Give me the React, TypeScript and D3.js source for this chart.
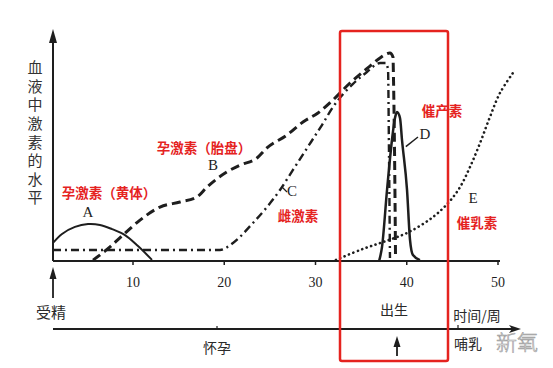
import * as d3 from "d3";
import { useMemo } from "react";

// weeks / hormone level (0-100)
const weeksA = [1.23, 2.22, 3.64, 5.07, 6.38, 7.7, 9.12, 10.55, 12.08];
const levelA = [8.2, 12.3, 15.5, 16.8, 16.4, 14.5, 11.8, 6.8, 0.5];

const weeksB = [5.62, 7.48, 8.9, 10.77, 12.96, 15.15, 17.01, 18.11, 20.3, 21.73, 23.59, 24.68, 26.88, 28.63, 30.27, 31.92, 33.78, 35.97, 37.07, 38.16, 38.49, 38.55, 38.66, 38.77];
const levelB = [0.4, 6.4, 11.8, 18.6, 24.5, 26.8, 29.1, 33.6, 40.5, 43.6, 46.8, 51.4, 57.3, 63.2, 67.3, 73.2, 80.9, 88.6, 92.3, 94.5, 92.7, 82.3, 50.5, 1.4];

const weeksC = [1.23, 6.38, 12.96, 19.53, 20.96, 23.15, 24.68, 26.11, 27.53, 29.51, 30.71, 31.92, 34.11, 35.64, 37.07, 37.73, 37.95, 38.05, 38.16];
const levelC = [5, 5, 5, 5, 8.2, 17.3, 24.5, 32.3, 41.4, 54.1, 61.8, 70, 80.5, 85.9, 90, 90, 86.8, 50.5, 1.4];

const weeksD = [36.97, 37.29, 37.84, 38.38, 38.71, 38.93, 39.26, 39.48, 40.03, 40.36, 40.68, 41.45];
const levelD = [0, 6.4, 32.3, 55, 65, 67.7, 65, 55, 32.3, 9.5, 2.7, 0.4];

const weeksE = [32.24, 35.2, 37.73, 40.25, 42.88, 44.63, 45.84, 46.93, 48.03, 49.12, 50.22, 51.64];
const levelE = [0.5, 5.5, 9.1, 13.2, 20, 26.8, 33.6, 42.7, 53.6, 65.5, 76.4, 85.5];

const tickWeeks = [10, 20, 30, 40, 50];
const yTitle = "血液中激素的水平";

const W = 553;
const H = 368;
const axisY = 261;
const axisX = 53;
const red = "#e5231f";
const ink = "#1e1e1e";
const cjk = "'Noto Sans CJK SC', sans-serif";
const latin = "'Liberation Serif', serif";

const App = () => {
  const x = useMemo(() => d3.scaleLinear().domain([0, 50]).range([41.75, 498]), []);
  const y = useMemo(() => d3.scaleLinear().domain([0, 100]).range([axisY, 41]), []);

  const mk = (ws: number[], ls: number[], curve: d3.CurveFactory) =>
    d3.line<number>().x((w) => x(w)).y((_, i) => y(ls[i])).curve(curve)(ws) || "";

  const pathA = mk(weeksA, levelA, d3.curveCatmullRom);
  const pathB = mk(weeksB, levelB, d3.curveMonotoneX);
  const pathC = mk(weeksC, levelC, d3.curveMonotoneX);
  const pathD = mk(weeksD, levelD, d3.curveMonotoneX);
  const pathE = mk(weeksE, levelE, d3.curveCatmullRom);

  const redLabel = (t: string, cx: number, cy: number) => (
    <text x={cx} y={cy} fill={red} fontFamily={cjk} fontWeight={700} fontSize={13.5} textAnchor="middle" dominantBaseline="central">{t}</text>
  );
  const letter = (t: string, cx: number, cy: number) => (
    <text x={cx} y={cy} fill={ink} fontFamily={latin} fontSize={15} textAnchor="middle" dominantBaseline="central">{t}</text>
  );
  const blackLabel = (t: string, cx: number, cy: number, size = 14) => (
    <text x={cx} y={cy} fill="#2a2a2a" fontFamily={cjk} fontSize={size} textAnchor="middle" dominantBaseline="central">{t}</text>
  );

  return (
    <svg width={W} height={H} style={{ position: "absolute", left: 0, top: 0, background: "#fff" }}>
      {/* y axis */}
      <line x1={axisX} y1={axisY} x2={axisX} y2={38} stroke={ink} strokeWidth={2} />
      <polygon points={`${axisX},29 ${axisX - 4},43 ${axisX + 4},43`} fill={ink} />
      <text x={35} y={60} fill="#333" fontFamily={cjk} fontSize={15} letterSpacing={3.6}
        style={{ writingMode: "vertical-rl" }}>{yTitle}</text>

      {/* x axis */}
      <line x1={axisX} y1={axisY} x2={x(50) + 2} y2={axisY} stroke={ink} strokeWidth={2} />
      {tickWeeks.map((t) => (
        <g key={t}>
          <line x1={x(t)} x2={x(t)} y1={axisY} y2={axisY + 4} stroke={ink} strokeWidth={1.5} />
          <text x={x(t)} y={282} fill={ink} fontFamily={latin} fontSize={14} textAnchor="middle" dominantBaseline="central">{t}</text>
        </g>
      ))}

      {/* curves */}
      <path d={pathA} fill="none" stroke={ink} strokeWidth={2} />
      <path d={pathC} fill="none" stroke={ink} strokeWidth={2.4} strokeDasharray="8 4 2 4" />
      <path d={pathB} fill="none" stroke={ink} strokeWidth={3} strokeDasharray="9 5" />
      <path d={pathE} fill="none" stroke={ink} strokeWidth={2.6} strokeDasharray="0.1 4.6" strokeLinecap="round" />
      <path d={pathD} fill="none" stroke={ink} strokeWidth={2.5} />

      {/* pointers */}
      <line x1={x(39.9)} y1={y(52)} x2={418} y2={137} stroke={ink} strokeWidth={1.5} />
      <line x1={282} y1={187} x2={287} y2={192} stroke={ink} strokeWidth={1.3} />

      {letter("A", 88, 212)}
      {letter("B", 213, 165)}
      {letter("C", 292, 191)}
      {letter("D", 425, 134)}
      {letter("E", 473, 198)}

      {redLabel("孕激素（胎盘）", 204, 147)}
      {redLabel("孕激素（黄体）", 109, 192)}
      {redLabel("催产素", 442, 110)}
      {redLabel("雌激素", 298, 215)}
      {redLabel("催乳素", 477, 222)}

      {/* fertilisation / birth timeline */}
      <line x1={axisX} y1={298} x2={axisX} y2={276} stroke={ink} strokeWidth={1.8} />
      <polygon points={`${axisX},267 ${axisX - 3.5},279 ${axisX + 3.5},279`} fill={ink} />
      {blackLabel("受精", 51, 311, 15)}

      <line x1={axisX} y1={329} x2={512} y2={329} stroke={ink} strokeWidth={2} />
      <polygon points="521,329 509,325 512,329 509,333" fill={ink} />
      <line x1={217} x2={217} y1={326} y2={329} stroke={ink} strokeWidth={1.2} />
      <line x1={458} x2={458} y1={325} y2={329} stroke={ink} strokeWidth={1.2} />
      {blackLabel("怀孕", 217, 347)}
      {blackLabel("出生", 394, 309)}
      {blackLabel("时间/周", 477, 315)}
      {blackLabel("哺乳", 468, 343)}
      <line x1={397} y1={356} x2={397} y2={344} stroke={ink} strokeWidth={1.8} />
      <polygon points="397,336 393.5,347 400.5,347" fill={ink} />

      {/* highlight box */}
      <rect x={340} y={31} width={108} height={330} rx={2} fill="none" stroke={red} strokeWidth={2.5} />

      {/* watermark */}
      <text x={517} y={341} fill="#fff" stroke="#9a9a9a" strokeWidth={0.6} fontFamily={cjk} fontWeight={300} fontSize={21} textAnchor="middle" dominantBaseline="central">新氧</text>
    </svg>
  );
};

export default App;
